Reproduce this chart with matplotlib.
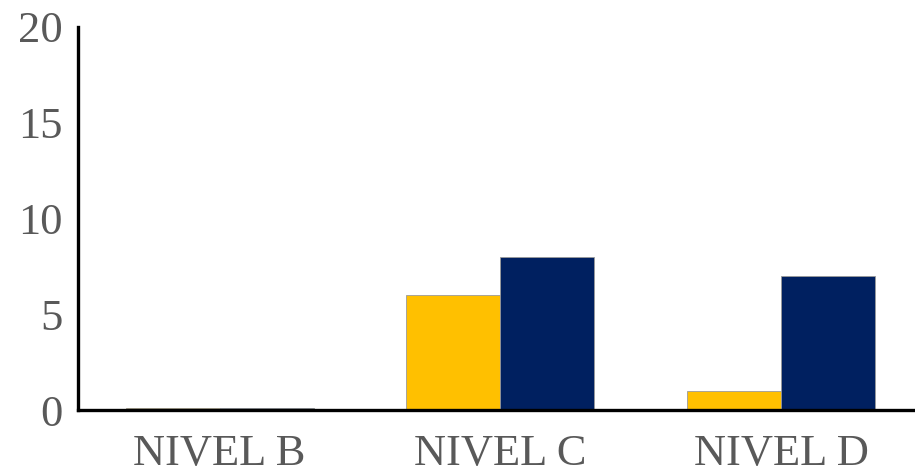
import matplotlib.pyplot as plt
import numpy as np

categorias = ["NIVEL B", "NIVEL C", "NIVEL D"]
serie_amarilla = [0.1, 6, 1]
serie_azul = [0.1, 8, 7]

plt.rcParams['font.family'] = ['Liberation Serif', 'DejaVu Serif']

fig = plt.figure(figsize=(9.15, 4.73), dpi=100)
ax = fig.add_axes([0.085, 0.133, 0.915, 0.81])

x = np.arange(len(categorias))
ancho = 0.335
ax.bar(x - ancho / 2, serie_amarilla, ancho, color="#FFC000", edgecolor="#9a9a9a", linewidth=0.6)
ax.bar(x + ancho / 2, serie_azul, ancho, color="#002060", edgecolor="#9a9a9a", linewidth=0.6)

ax.set_xlim(-0.505, 2.477)
ax.set_ylim(0, 20)
ax.set_yticks([0, 5, 10, 15, 20])
ax.set_xticks(x)
ax.set_xticklabels(categorias)

ax.tick_params(axis="both", length=0, labelsize=32, labelcolor="#595959")
ax.tick_params(axis="x", pad=17)
ax.tick_params(axis="y", pad=11)

ax.spines["top"].set_visible(False)
ax.spines["right"].set_visible(False)
ax.spines["left"].set_linewidth(2.4)
ax.spines["bottom"].set_linewidth(2.4)

fig.savefig("out.png", dpi=100)
